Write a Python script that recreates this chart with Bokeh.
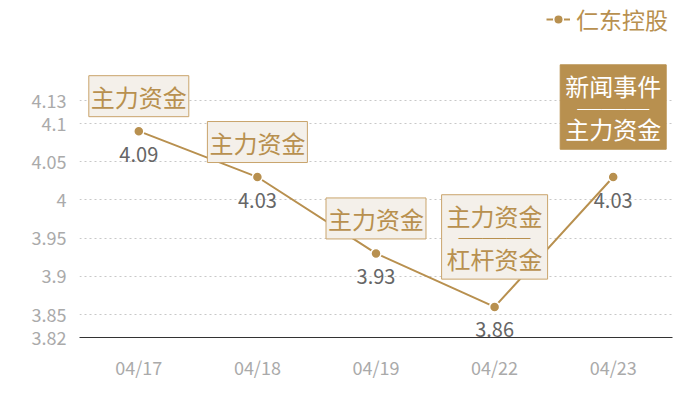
from bokeh.plotting import figure
from bokeh.models import (ColumnDataSource, Legend, LegendItem, FixedTicker, FactorRange)
from bokeh.core.properties import value
from bokeh.embed import file_html
from bokeh.resources import INLINE

# ---- data ----
dates = ["04/17", "04/18", "04/19", "04/22", "04/23"]
prices = [4.09, 4.03, 3.93, 3.86, 4.03]
series_name = "仁东控股"
events = ["主力资金", "主力资金", "主力资金", "主力资金\n───\n杠杆资金", "新闻事件\n───\n主力资金"]
event_filled = [False, False, False, False, True]
y_ticks = [3.82, 3.85, 3.9, 3.95, 4.0, 4.05, 4.1, 4.13]

GOLD = "#b8904f"
CJK = "Noto Sans CJK SC"

p = figure(width=700, height=400, x_range=FactorRange(*dates), y_range=(3.82, 4.261),
           output_backend="svg", toolbar_location=None,
           min_border_left=79, min_border_right=28, min_border_top=0, min_border_bottom=63)
p.outline_line_color = None
p.background_fill_color = "white"

src = ColumnDataSource(dict(x=dates, y=prices, t=[f"{v:.2f}" for v in prices]))
ln = p.line("x", "y", source=src, line_color=GOLD, line_width=2)
sc = p.scatter("x", "y", source=src, size=10, fill_color=GOLD, line_color="white", line_width=1.5)

# axes
p.xaxis.axis_line_color = "#333333"
p.xaxis.major_tick_line_color = None
p.xaxis.minor_tick_line_color = None
p.xaxis.major_label_text_color = "#aaaaaa"
p.xaxis.major_label_text_font = CJK
p.xaxis.major_label_text_font_size = "18px"
p.xaxis.major_label_standoff = 10
p.xgrid.grid_line_color = None

p.yaxis.ticker = FixedTicker(ticks=y_ticks)
p.yaxis.axis_line_color = None
p.yaxis.major_tick_line_color = None
p.yaxis.minor_tick_line_color = None
p.yaxis.major_label_text_color = "#aaaaaa"
p.yaxis.major_label_text_font = CJK
p.yaxis.major_label_text_font_size = "18px"
p.yaxis.major_label_standoff = 7
p.ygrid.ticker = FixedTicker(ticks=y_ticks[1:])
p.ygrid.grid_line_color = "#c8c8c8"
p.ygrid.grid_line_dash = "2 3"

# value labels below points
p.text("x", "y", text="t", source=src, y_offset=23, text_align="center",
       text_baseline="middle", text_color="#666666",
       text_font=value(CJK), text_font_size="20px")

# event boxes
single = dict(x=[], y=[], t=[], fc=[], tc=[], bc=[])
multi = dict(x=[], y=[], t=[], fc=[], tc=[], bc=[])
for d, v, e, f in zip(dates, prices, events, event_filled):
    tgt = multi if "\n" in e else single
    tgt["x"].append(d)
    tgt["y"].append(v)
    tgt["t"].append(e)
    tgt["fc"].append(GOLD if f else "#f4f0ea")
    tgt["tc"].append("white" if f else GOLD)
    tgt["bc"].append(GOLD if f else "#c9a46c")

p.text("x", "y", text="t", source=ColumnDataSource(single), y_offset=-35,
       text_align="center", text_baseline="middle", text_color="tc",
       text_font=value(CJK), text_font_size="24px",
       background_fill_color="fc", border_line_color="bc", border_line_width=1,
       padding=(2, 3))
p.text("x", "y", text="t", source=ColumnDataSource(multi), y_offset=-70,
       text_align="center", text_baseline="middle", text_color="tc",
       text_font=value(CJK), text_font_size="24px", text_line_height=0.62,
       background_fill_color="fc", border_line_color="bc", border_line_width=1,
       padding=(5, 3))

legend = Legend(items=[LegendItem(label=series_name, renderers=[ln, sc])],
                location=(467, 301), padding=0, margin=0, border_line_color=None,
                background_fill_alpha=0, label_text_font=CJK, label_text_font_size="23px",
                label_text_color=GOLD, glyph_width=24, glyph_height=30, label_height=30,
                label_standoff=6)
p.add_layout(legend)

open("out.html", "w").write(file_html(p, INLINE))
